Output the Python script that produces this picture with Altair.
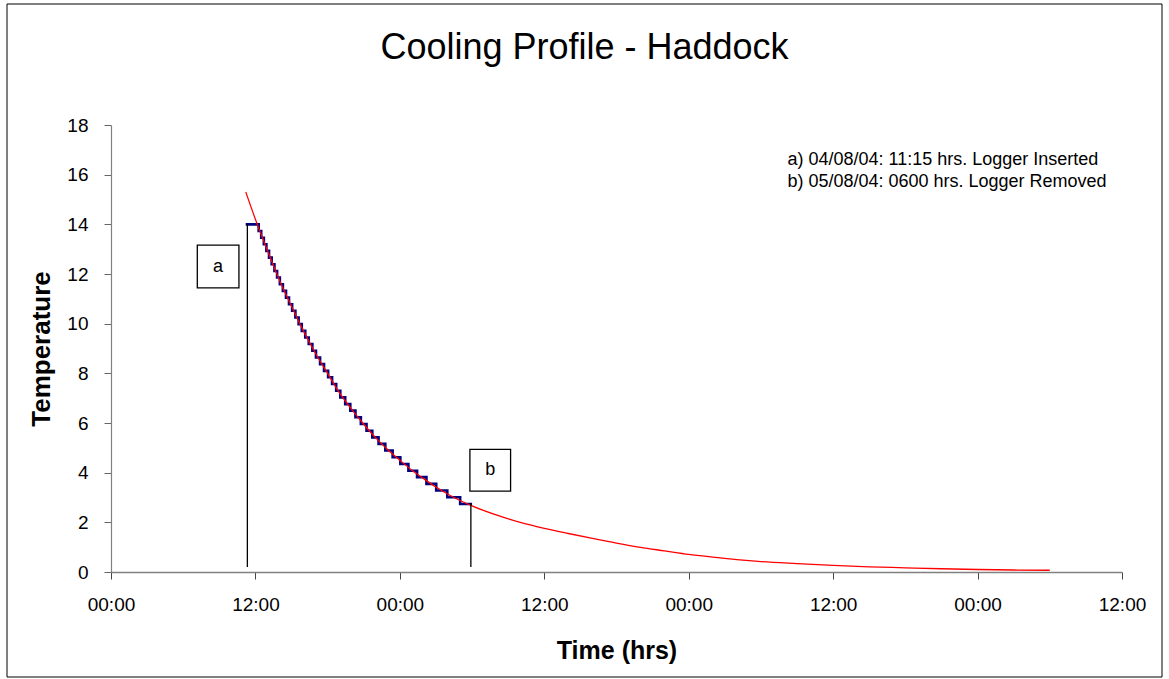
import altair as alt
import pandas as pd

FONT = "Liberation Sans"

# ---- data (hours since 04/08/04 00:00, temperature) ----
red_t = [11.2, 12, 13, 14, 15, 16, 17, 18, 19, 20, 21, 22, 23, 24, 25, 26, 27, 28, 29, 30,
         32, 34, 36, 38, 40, 42, 44, 46, 48, 50, 52, 54, 57, 60, 63, 66, 69, 72, 75, 78]
red_T = [15.3, 14.2, 12.95, 11.75, 10.7, 9.7, 8.8, 8.0, 7.2, 6.55, 5.95, 5.4, 4.92, 4.5, 4.1, 3.75, 3.42, 3.13, 2.88, 2.66,
         2.3, 2.0, 1.76, 1.55, 1.35, 1.16, 0.99, 0.85, 0.71, 0.6, 0.5, 0.42, 0.34, 0.27, 0.21, 0.17, 0.13, 0.1, 0.08, 0.07]

step_t = [11.19, 12.27, 12.48, 12.70, 12.91, 13.13, 13.35, 13.58, 13.80, 14.03, 14.28, 14.54, 14.79, 15.05,
          15.32, 15.59, 15.85, 16.14, 16.43, 16.73, 17.03, 17.37, 17.70, 18.04, 18.37, 18.71, 19.05, 19.46,
          19.88, 20.31, 20.76, 21.23, 21.71, 22.23, 22.79, 23.40, 24.04, 24.71, 25.43, 26.21, 27.02, 27.94,
          29.01, 30.0]
step_T = [14.00, 13.73, 13.46, 13.20, 12.93, 12.66, 12.39, 12.12, 11.86, 11.59, 11.32, 11.05, 10.78, 10.52,
          10.25, 9.98, 9.71, 9.44, 9.18, 8.91, 8.64, 8.37, 8.10, 7.84, 7.57, 7.30, 7.03, 6.76,
          6.50, 6.23, 5.96, 5.69, 5.42, 5.16, 4.89, 4.62, 4.35, 4.08, 3.82, 3.55, 3.28, 3.01,
          2.74, 2.74]

rule_t = [11.33, 29.9]
rule_lo = [0.2, 0.2]
rule_hi = [14.0, 2.78]

box_label = ["a", "b"]
box_x1 = [7.17, 29.82]
box_x2 = [10.63, 33.2]
box_y1 = [11.44, 3.26]
box_y2 = [13.16, 4.94]

note_lines = ["a) 04/08/04: 11:15 hrs. Logger Inserted", "b) 05/08/04: 0600 hrs. Logger Removed"]
note_t = [56.2, 56.2]
note_T = [16.39, 15.5]

title_text = ["Cooling Profile - Haddock"]

x_ticks = [0, 12, 24, 36, 48, 60, 72, 84]
x_tick_labels = ["00:00", "12:00"]
y_ticks = [0, 2, 4, 6, 8, 10, 12, 14, 16, 18]

red_df = pd.DataFrame({"t": red_t, "T": red_T})
step_df = pd.DataFrame({"t": step_t, "T": step_T})
rule_df = pd.DataFrame({"t": rule_t, "T": rule_lo, "T2": rule_hi})
box_df = pd.DataFrame({"t": box_x1, "t2": box_x2, "T": box_y1, "T2": box_y2, "label": box_label,
                       "tm": [(a + b) / 2 for a, b in zip(box_x1, box_x2)],
                       "Tm": [(a + b) / 2 for a, b in zip(box_y1, box_y2)]})
note_df = pd.DataFrame({"t": note_t, "T": note_T, "label": note_lines})
title_df = pd.DataFrame({"label": title_text})

axis_x = alt.Axis(values=x_ticks,
                  labelExpr=f"datum.value % 24 == 0 ? '{x_tick_labels[0]}' : '{x_tick_labels[1]}'",
                  title="Time (hrs)", titleFont=FONT, titleFontSize=25, titleFontWeight="bold",
                  titleColor="black", titlePadding=24,
                  labelFont=FONT, labelFontSize=19, labelColor="black", labelPadding=16,
                  labelFlush=False, labelOverlap=False,
                  tickSize=7, tickColor="#444444", domainColor="#808080", domainWidth=1.5, grid=False)
axis_y = alt.Axis(values=y_ticks, title="Temperature", titleFont=FONT, titleFontSize=26,
                  titleFontWeight="bold", titleColor="black", titlePadding=12,
                  labelFont=FONT, labelFontSize=19, labelColor="black", labelPadding=16,
                  tickSize=7, tickColor="#666666", domainColor="#808080", domainWidth=1.2, grid=False)

xs = alt.Scale(domain=[0, 84], nice=False)
ys = alt.Scale(domain=[0, 18], nice=False)


def X(f):
    return alt.X(f, type="quantitative", scale=xs, axis=axis_x, title="Time (hrs)")


def Y(f):
    return alt.Y(f, type="quantitative", scale=ys, axis=axis_y, title="Temperature")


frame = alt.Chart(pd.DataFrame({"d": [0]})).mark_rect(
    fillOpacity=0, stroke="black", strokeWidth=1
).encode(x=alt.value(-104), x2=alt.value(1051), y=alt.value(-121), y2=alt.value(552))

title = alt.Chart(title_df).mark_text(font=FONT, fontSize=36, color="black", align="center",
                                      baseline="alphabetic").encode(
    x=alt.value(473.5), y=alt.value(-66), text="label")

steps = alt.Chart(step_df).mark_line(interpolate="step-after", color="#000080", strokeWidth=2.6).encode(
    x=X("t"), y=Y("T"))
red = alt.Chart(red_df).mark_line(interpolate="monotone", color="#FF0000", strokeWidth=1.3).encode(
    x=X("t"), y=Y("T"))
rules = alt.Chart(rule_df).mark_rule(color="black", strokeWidth=1.3).encode(
    x=X("t"), y=Y("T"), y2="T2")
boxes = alt.Chart(box_df).mark_rect(fill="white", stroke="black", strokeWidth=1.3).encode(
    x=X("t"), x2="t2", y=Y("T"), y2="T2")
box_text = alt.Chart(box_df).mark_text(font=FONT, fontSize=18, color="black", align="center",
                                       baseline="middle").encode(x=X("tm"), y=Y("Tm"), text="label")
notes = alt.Chart(note_df).mark_text(font=FONT, fontSize=18, color="black", align="left",
                                     baseline="alphabetic").encode(x=X("t"), y=Y("T"), text="label")

chart = alt.layer(frame, title, steps, red, rules, boxes, box_text, notes).properties(
    width=1011, height=447,
    autosize=alt.AutoSizeParams(type="none"),
    padding={"left": 111, "top": 125, "right": 47, "bottom": 107},
    background="white",
).configure_view(stroke="transparent")

chart.save("out.html", embed_options={"renderer": "svg", "actions": False})
